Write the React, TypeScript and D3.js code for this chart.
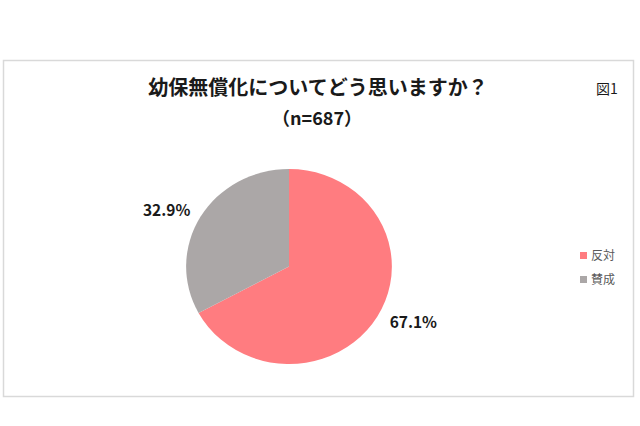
import { useEffect, useRef } from 'react';
import * as d3 from 'd3';

const categories = ['反対', '賛成'];
const values = [67.1, 32.9];
const colors = ['#ff7c80', '#aba7a7'];

export default function App() {
  const svgRef = useRef<SVGSVGElement>(null);

  useEffect(() => {
    if (!svgRef.current) return;
    const svg = d3.select(svgRef.current);
    svg.selectAll('*').remove();

    const font = '"Noto Sans CJK JP", "Noto Sans", sans-serif';

    // outer frame
    svg.append('rect')
      .attr('x', 3.5).attr('y', 60.5)
      .attr('width', 630).attr('height', 336)
      .attr('fill', '#fff')
      .attr('stroke', '#d9d9d9')
      .attr('stroke-width', 1.5);

    // titles
    svg.append('text')
      .attr('x', 318).attr('y', 95)
      .attr('text-anchor', 'middle')
      .style('font-family', font)
      .style('font-size', '20px')
      .style('font-weight', 'bold')
      .attr('fill', '#1a1a1a')
      .text('幼保無償化についてどう思いますか？');

    svg.append('text')
      .attr('x', 317).attr('y', 125)
      .attr('text-anchor', 'middle')
      .style('font-family', font)
      .style('font-size', '18px')
      .style('font-weight', 'bold')
      .attr('fill', '#1a1a1a')
      .text('（n=687）');

    svg.append('text')
      .attr('x', 596).attr('y', 94)
      .style('font-family', font)
      .style('font-size', '14px')
      .attr('fill', '#1a1a1a')
      .text('図1');

    // pie (the source image is slightly stretched horizontally)
    const cx = 289, cy = 266.5, r = 97.5, sx = 1.055;
    const pie = d3.pie<number>().sort(null).value(d => d);
    const arc = d3.arc<d3.PieArcDatum<number>>().innerRadius(0).outerRadius(r);
    const arcs = pie(values);

    const g = svg.append('g').attr('transform', `translate(${cx},${cy})`);
    g.append('g')
      .attr('transform', `scale(${sx},1)`)
      .selectAll('path')
      .data(arcs)
      .join('path')
      .attr('d', arc)
      .attr('fill', (_, i) => colors[i]);

    // value labels outside the slices (Excel-like placement, nudged counter-clockwise)
    const labelR = r * 1.39;
    const labelPos = (d: d3.PieArcDatum<number>) => {
      const a = (d.startAngle + d.endAngle) / 2 - 0.11;
      return [Math.sin(a) * labelR + 1, -Math.cos(a) * labelR];
    };
    g.selectAll('text.value')
      .data(arcs)
      .join('text')
      .attr('class', 'value')
      .attr('transform', d => {
        const [x, y] = labelPos(d);
        return `translate(${x},${y})`;
      })
      .attr('text-anchor', 'middle')
      .attr('dy', '0.35em')
      .style('font-family', font)
      .style('font-size', '15.5px')
      .style('font-weight', 'bold')
      .attr('fill', '#1a1a1a')
      .text(d => `${d.data.toFixed(1)}%`);

    // legend
    const legend = svg.append('g').attr('transform', 'translate(580,256)');
    const item = legend.selectAll('g')
      .data(categories)
      .join('g')
      .attr('transform', (_, i) => `translate(0,${i * 24})`);
    item.append('rect')
      .attr('x', 0).attr('y', -4)
      .attr('width', 7).attr('height', 7)
      .attr('fill', (_, i) => colors[i]);
    item.append('text')
      .attr('x', 11).attr('y', 0)
      .attr('dy', '0.35em')
      .style('font-family', font)
      .style('font-size', '12px')
      .attr('fill', '#595959')
      .text(d => d);
  }, []);

  return (
    <svg
      ref={svgRef}
      width={640}
      height={426}
      style={{ position: 'absolute', left: 0, top: 0, background: '#fff' }}
    />
  );
}
